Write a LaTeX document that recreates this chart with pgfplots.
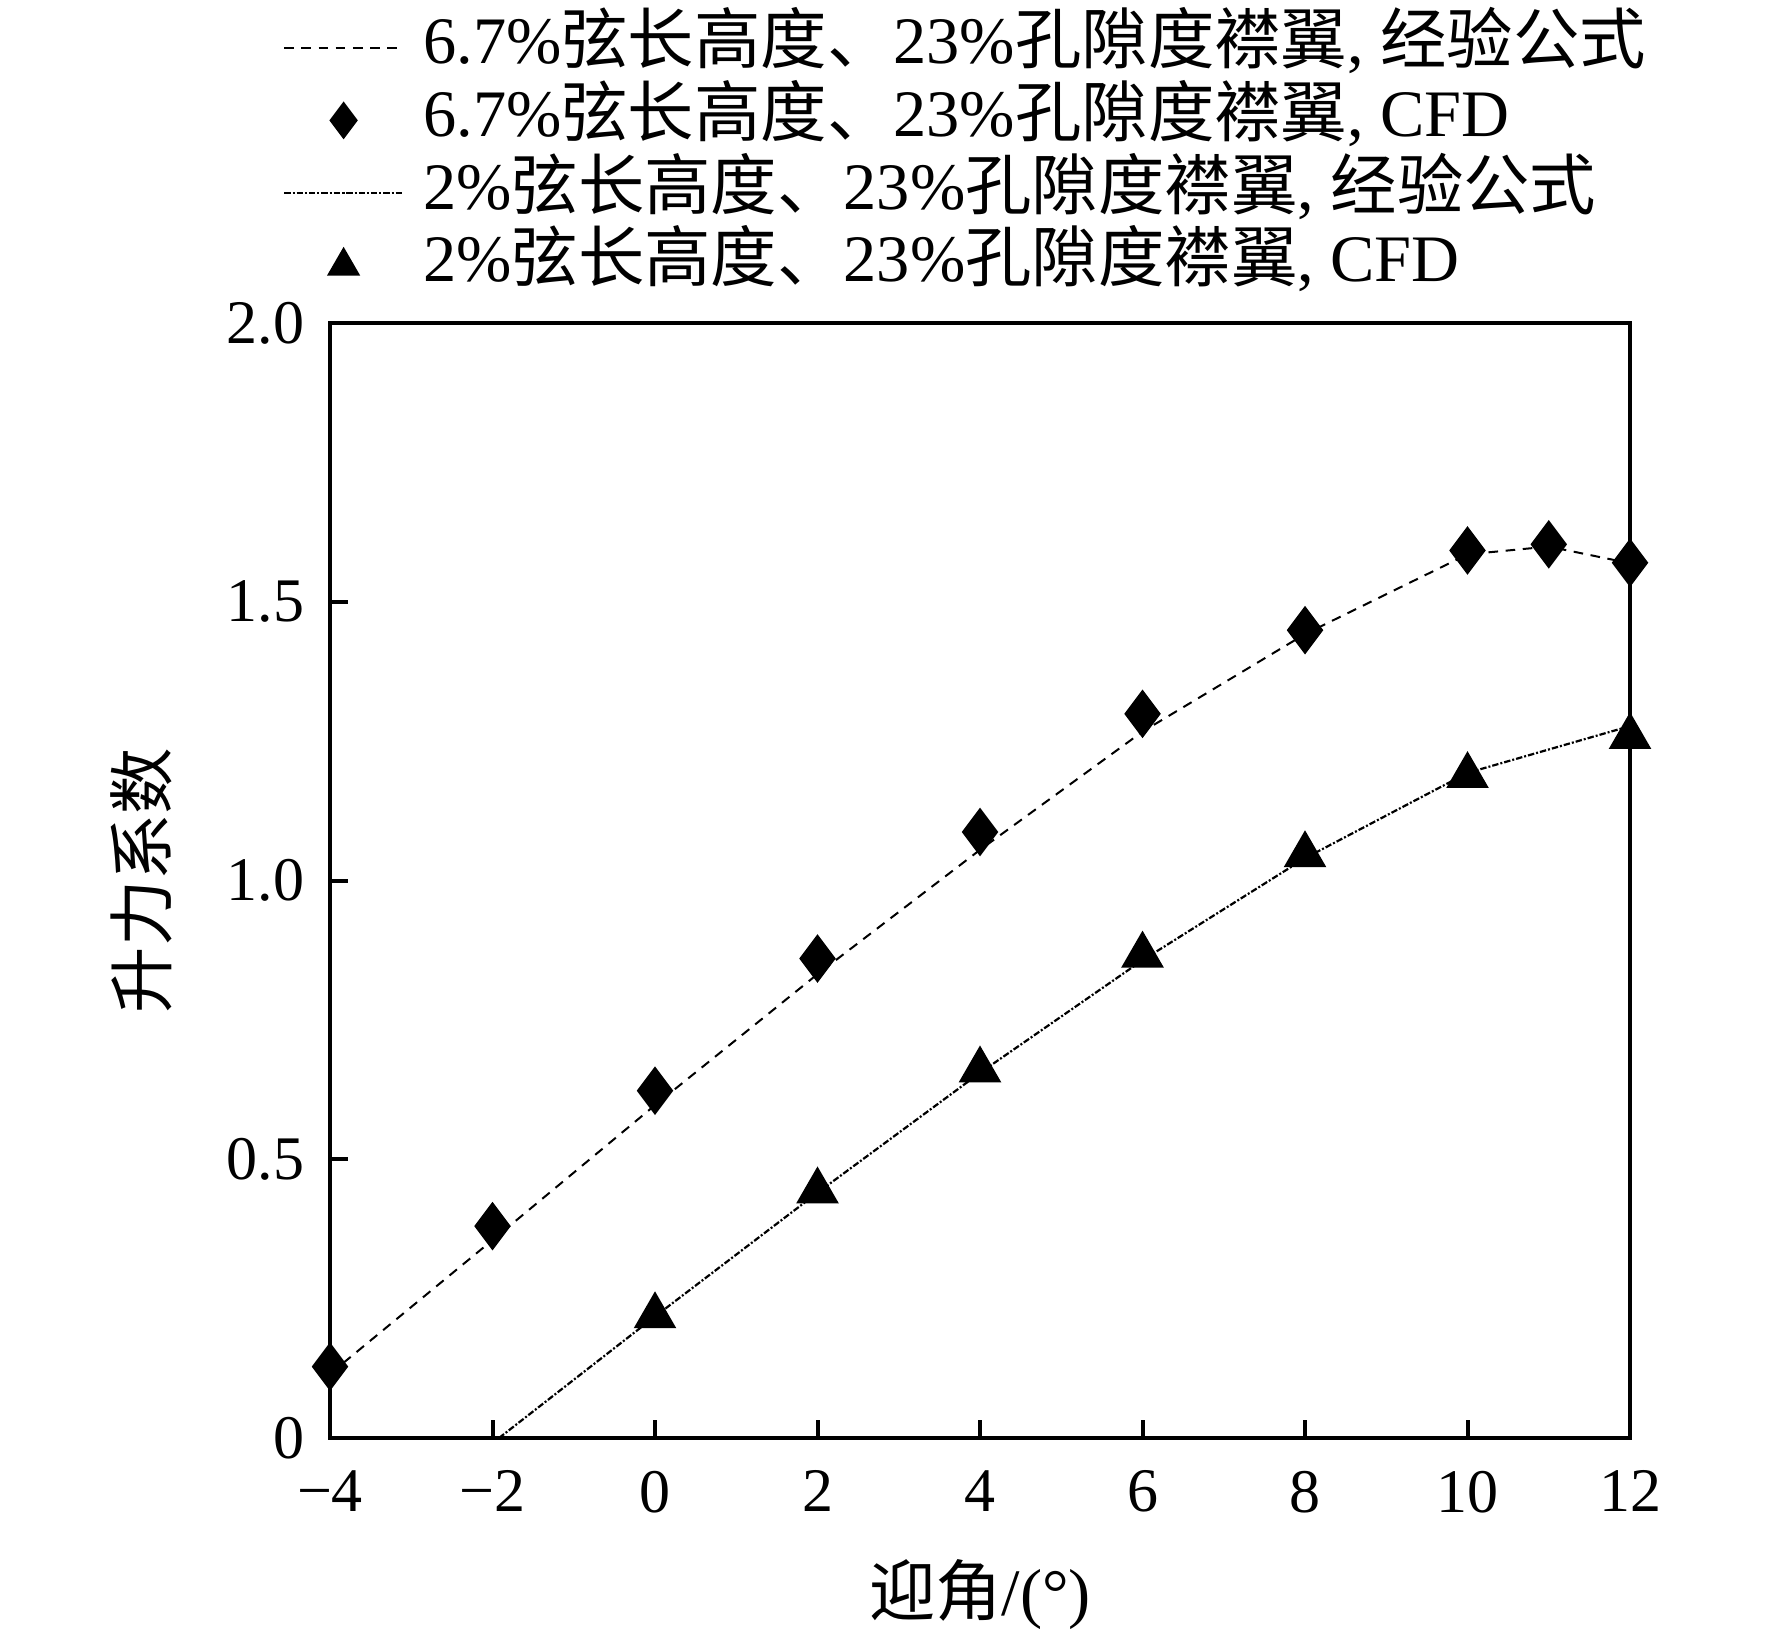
\documentclass[border=0pt]{standalone}
\usepackage{fontspec}
\setmainfont{Liberation Serif}
\newfontfamily\cjk{Noto Sans CJK SC}
\usepackage{pgfplots}
\pgfplotsset{compat=1.18}

\begin{document}
\begin{tikzpicture}
\begin{axis}[
  name=ax,
  at={(0,0)}, anchor=south west,
  scale only axis,
  width=325pt, height=278.75pt,
  xmin=-4, xmax=12, ymin=0, ymax=2,
  clip=false,
  xtick={-4,-2,0,2,4,6,8,10,12},
  xticklabels={−4,−2,0,2,4,6,8,10,12},
  ytick={0,0.5,1,1.5,2},
  yticklabels={0,0.5,1.0,1.5,2.0},
  tick align=inside,
  tick pos=left,
  major tick length=4.5pt,
  every tick/.style={black, line width=1pt},
  axis line style={line width=1pt},
  xticklabel style={font=\fontsize{15.5}{15.5}\selectfont, inner sep=0pt, anchor=north, yshift=-8pt},
  yticklabel style={font=\fontsize{15.5}{15.5}\selectfont, inner sep=0pt, anchor=east, xshift=-6.25pt},
  xlabel={{\cjk 迎角}/(°)},
  ylabel={\cjk 升力系数},
  label style={font=\fontsize{16.6}{16.6}\selectfont},
  xlabel style={at={(axis description cs:0.5,-0.1408)}, anchor=center, inner sep=0pt},
  ylabel style={at={(axis description cs:-0.1454,0.5)}, anchor=center, inner sep=0pt},
  legend style={at={(axis description cs:-0.03615,1.2757)}, anchor=north west, draw=none, fill=none,
    inner sep=0pt, outer sep=0pt, row sep=2.2pt, font=\fontsize{16.6}{16.6}\selectfont,
    nodes={inner sep=0pt, text height=12pt, text depth=4pt},
    /tikz/every odd column/.append style={column sep=4.75pt}},
  legend cell align=left,
  legend image code/.code={\draw[mark repeat=2,mark phase=2,#1,mark size=4.4pt] plot coordinates {(0pt,0pt) (14.875pt,0pt) (29.75pt,0pt)};},
]
\addplot[black, line width=0.5pt, dash pattern=on 2.4pt off 1.9pt] coordinates {
  (-4,0.115) (-2,0.355) (0,0.597) (2,0.832) (4,1.055) (6,1.267) (8,1.442) (10,1.585) (11,1.599) (12,1.569)};
\addlegendentry{6.7\%{\cjk 弦长高度、}23\%{\cjk 孔隙度襟翼}, {\cjk 经验公式}}
\addplot[only marks, mark=diamond*, mark size=5.75pt, black] coordinates {
  (-4,0.128) (-2,0.38) (0,0.623) (2,0.86) (4,1.087) (6,1.299) (8,1.449) (10,1.592) (11,1.603) (12,1.570)};
\addlegendentry{6.7\%{\cjk 弦长高度、}23\%{\cjk 孔隙度襟翼}, CFD}
\addplot[black, line width=0.55pt, dash pattern=on 1.6pt off 0.5pt on 0.5pt off 0.5pt] coordinates {
  (-1.92,0) (0,0.218) (2,0.44) (4,0.655) (6,0.857) (8,1.04) (10,1.193) (12,1.277)};
\addlegendentry{2\%{\cjk 弦长高度、}23\%{\cjk 孔隙度襟翼}, {\cjk 经验公式}}
\addplot[only marks, mark=triangle*, mark size=5.75pt, black] coordinates {
  (0,0.219) (2,0.443) (4,0.66) (6,0.866) (8,1.046) (10,1.188) (12,1.258)};
\addlegendentry{2\%{\cjk 弦长高度、}23\%{\cjk 孔隙度襟翼}, CFD}
\end{axis}
\pgfresetboundingbox
\path[use as bounding box] (-82.5pt,-49.5pt) rectangle (360.5pt,359.5pt);
\end{tikzpicture}
\end{document}
